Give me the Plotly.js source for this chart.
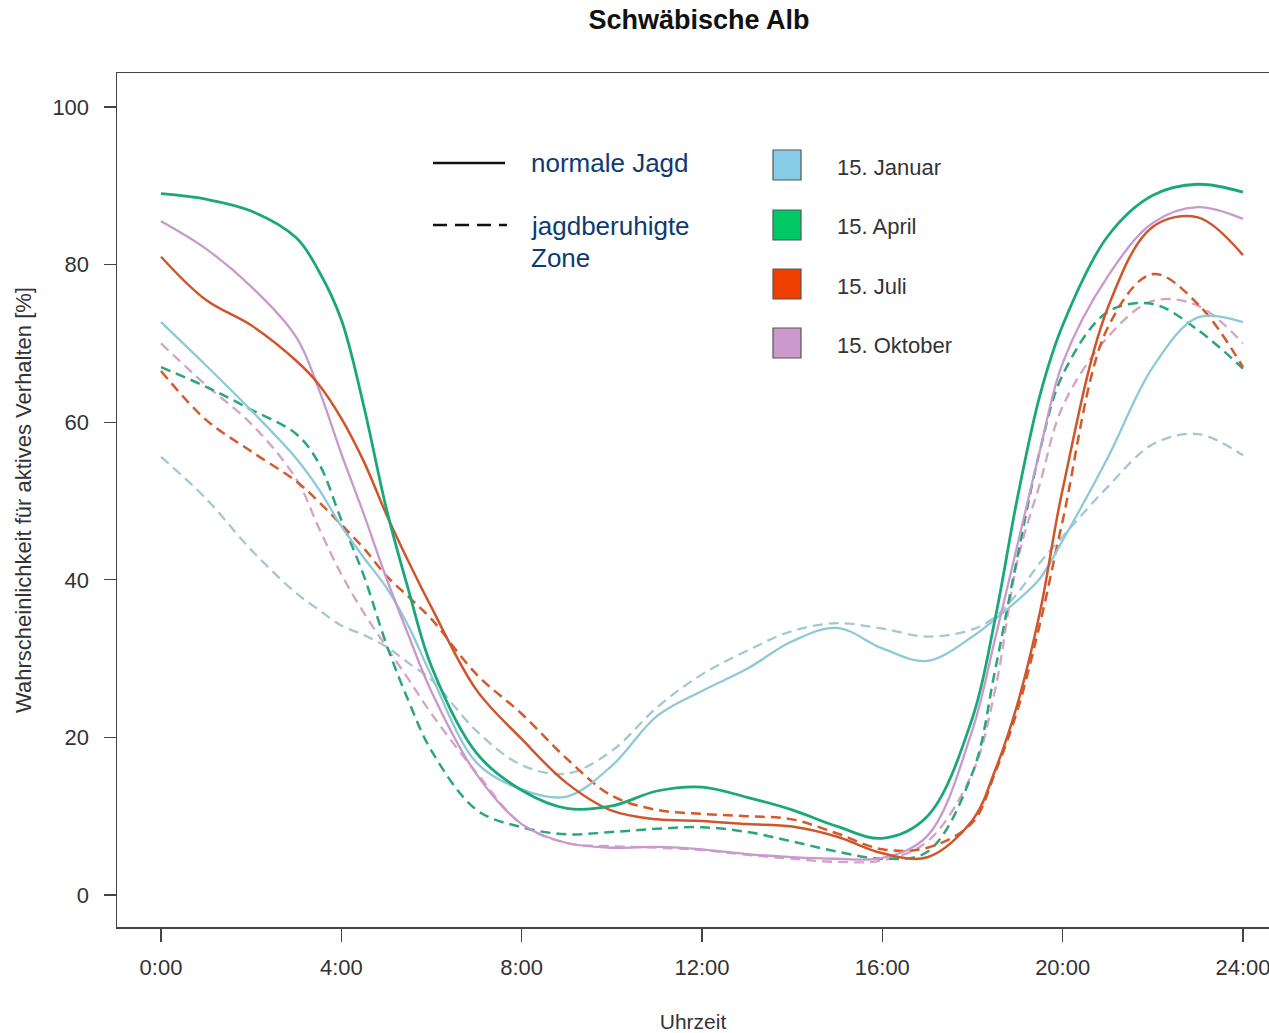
<!DOCTYPE html>
<html>
<head>
<meta charset="utf-8">
<script src="https://cdn.plot.ly/plotly-3.0.1.min.js"></script>
<style>
  html, body { margin: 0; padding: 0; background: #fff; }
  #chart { width: 1269px; height: 1033px; }
</style>
</head>
<body>
<div id="chart"></div>
<script>
// ---- data (hours of day, probability of activity in %) ----
const hours = [0,1,2,3,3.5,4,4.5,5,5.5,6,7,8,9,10,11,12,13,14,15,16,17,18,18.5,19,19.5,20,21,22,23,24];

const janNormal = [72.7,67.2,61.5,55.4,51.5,46.8,42.8,39,34,27.8,16.8,13.4,12.5,16.4,22.7,25.9,28.7,32.2,33.9,31.3,29.7,32.8,35,37.4,40.2,45,55.5,67,73.3,72.7];
const janQuiet  = [55.6,50.3,43.8,38.3,36.2,34.2,33,31.5,29.4,27.3,20.8,16.5,15.4,18.3,23.8,28,31,33.5,34.5,33.8,32.8,33.7,35.3,38.3,42.2,45.5,51.8,57.2,58.5,55.8];
const aprNormal = [89,88.3,86.8,83.4,79.2,73,62,49,38.5,29,18,13.3,11,11.3,13.2,13.7,12.4,10.8,8.7,7.2,10,22.5,35,50.5,63.5,72.3,83.6,88.8,90.2,89.2];
const aprQuiet  = [67,64.5,61.6,58.5,54.8,47.6,40.5,31.8,24.5,18.3,10.8,8.6,7.7,8,8.4,8.6,8,6.8,5.5,4.6,5.5,15.5,28.5,43,56.5,66,74,75,71.7,66.8];
const julNormal = [81,75.5,72.3,67.8,64.8,60.5,55,48.3,42.2,36.5,26,19.8,14.2,10.7,9.6,9.4,9,8.7,7.4,5.3,4.8,9.5,15.8,24.3,36,51.5,74.5,84.8,86,81.2];
const julQuiet  = [66.5,60.3,56.3,52.5,49.9,47,44,40.5,37.8,35,28,23,17.3,12.6,10.8,10.3,10,9.6,7.8,5.8,6,9.2,15.5,23.5,34.5,47.5,72,78.8,75,67];
const octNormal = [85.5,82,77.2,70.8,64.2,56,48.3,40.2,32.8,25.8,15.3,9,6.6,6,6.1,5.8,5.2,4.8,4.6,4.7,7.5,21,32.5,44.5,56.5,67.5,78.5,85.3,87.3,85.8];
const octQuiet  = [70,64.7,59.8,52.8,46.6,40.7,35.8,31.5,27.3,23,15.5,9,6.6,6.2,6,5.7,5.1,4.6,4.2,4.4,6.8,15.5,26,42.5,52.3,62,70.8,75.4,74.8,70];

const xTickVals = [0,4,8,12,16,20,24];
const xTickText = ["0:00","4:00","8:00","12:00","16:00","20:00","24:00"];
const yTickVals = [0,20,40,60,80,100];

const seasonLabels = ["15. Januar","15. April","15. Juli","15. Oktober"];
const huntLabels = ["normale Jagd","jagdberuhigte","Zone"];

// ---- styles ----
const FONT = "Liberation Sans, Arial, Helvetica, sans-serif";
const colSolid  = {jan:"#8ec9da", apr:"#1aa878", jul:"#cf562c", oct:"#c898cf"};
const colDashed = {jan:"#a2c9d2", apr:"#2ba57b", jul:"#d35a2b", oct:"#d4a3c6"};
const boxColors = ["#87cde8","#00c864","#ee3f00","#cc99cc"];
const DASH = "10px,6px";

function tr(y, color, dashed, w) {
  return {
    x: hours, y: y, type: "scatter", mode: "lines", hoverinfo: "skip", showlegend: false,
    line: {color: color, width: w, dash: dashed ? DASH : "solid", shape: "spline", smoothing: 1}
  };
}

const data = [
  tr(janQuiet, colDashed.jan, true, 2.3),
  tr(octQuiet, colDashed.oct, true, 2.3),
  tr(aprQuiet, colDashed.apr, true, 2.5),
  tr(julQuiet, colDashed.jul, true, 2.5),
  tr(janNormal, colSolid.jan, false, 2.3),
  tr(octNormal, colSolid.oct, false, 2.3),
  tr(julNormal, colSolid.jul, false, 2.5),
  tr(aprNormal, colSolid.apr, false, 2.8)
];

// pixel -> paper helpers for the legend block (plot area: x 117..1269, y 73..927)
const L = 117, W = 1152, B = 927, H = 854;
const px = X => (X - L) / W;
const py = Y => (B - Y) / H;

const shapes = [
  {type:"line", xref:"paper", yref:"paper", x0:px(433), x1:px(505), y0:py(163), y1:py(163),
   line:{color:"#111", width:2.5}},
  {type:"line", xref:"paper", yref:"paper", x0:px(433), x1:px(507), y0:py(225), y1:py(225),
   line:{color:"#111", width:2.5, dash:"14px,8px"}}
];
const boxTops = [150, 210, 269, 328];
boxTops.forEach((t, i) => {
  shapes.push({type:"rect", xref:"paper", yref:"paper", x0:px(773), x1:px(801), y0:py(t+30), y1:py(t),
    fillcolor: boxColors[i], line:{color:"#555", width:1.2}});
});

const annotations = [
  {xref:"paper", yref:"paper", x:px(529), y:py(163), xanchor:"left", yanchor:"middle", showarrow:false,
   text: huntLabels[0], font:{family:FONT, size:26, color:"#0d3b72"}},
  {xref:"paper", yref:"paper", x:px(529), y:py(226), xanchor:"left", yanchor:"middle", showarrow:false,
   text: huntLabels[1], font:{family:FONT, size:26, color:"#0d3b72"}},
  {xref:"paper", yref:"paper", x:px(529), y:py(258), xanchor:"left", yanchor:"middle", showarrow:false,
   text: huntLabels[2], font:{family:FONT, size:26, color:"#0d3b72"}}
];
boxTops.forEach((t, i) => {
  annotations.push({xref:"paper", yref:"paper", x:px(835), y:py(t+17), xanchor:"left", yanchor:"middle",
    showarrow:false, text: seasonLabels[i], font:{family:FONT, size:22, color:"#333"}});
});

const layout = {
  width: 1269, height: 1033,
  paper_bgcolor: "#fff", plot_bgcolor: "#fff",
  margin: {l: 117, r: 0, t: 73, b: 106, pad: 0},
  font: {family: FONT, color: "#333"},
  title: {text: "<b>Schwäbische Alb</b>", font: {family: FONT, size: 27, color: "#111"},
          xref: "container", x: 699/1269, xanchor: "center", yref: "container", y: 1 - 20/1033, yanchor: "middle"},
  xaxis: {
    range: [-44/45.083, -44/45.083 + 1152/45.083],
    tickvals: xTickVals, ticktext: xTickText,
    ticks: "outside", ticklen: 13, tickwidth: 1.3, tickcolor: "#444",
    ticklabelstandoff: 7, ticklabeloverflow: "allow",
    showline: true, mirror: true, linecolor: "#444", linewidth: 1.5,
    showgrid: false, zeroline: false,
    tickfont: {family: FONT, size: 22, color: "#333"},
    title: {text: "Uhrzeit", font: {family: FONT, size: 21, color: "#333"}, standoff: 39}
  },
  yaxis: {
    range: [-4.06, 104.32],
    tickvals: yTickVals,
    ticks: "outside", ticklen: 12, tickwidth: 1.3, tickcolor: "#444",
    ticklabelstandoff: 10,
    showline: true, mirror: false, linecolor: "#444", linewidth: 1.5,
    showgrid: false, zeroline: false,
    tickfont: {family: FONT, size: 22, color: "#333"},
    title: {text: "Wahrscheinlichkeit für aktives Verhalten [%]", font: {family: FONT, size: 22, color: "#333"}, standoff: 14}
  },
  shapes: shapes,
  annotations: annotations
};

Plotly.newPlot("chart", data, layout, {displayModeBar: false, staticPlot: true});
</script>
</body>
</html>
